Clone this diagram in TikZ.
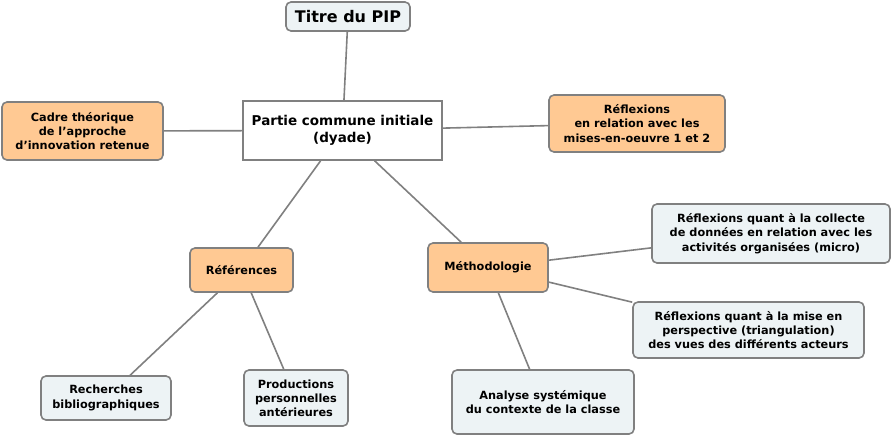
\documentclass[tikz,border=0pt]{standalone}
\usepackage{fontspec}
\setmainfont{DejaVu Sans}
\definecolor{peach}{HTML}{FFC993}
\definecolor{pale}{HTML}{EDF3F5}
\definecolor{edge}{HTML}{808080}

\begin{document}
\begin{tikzpicture}[x=1pt,y=-1pt,
    box/.style={draw=edge,line width=1.6pt,rounded corners=5pt,align=center,inner sep=0pt,
        font=\bfseries\fontsize{11.3}{14.2}\selectfont},
    hot/.style={box,fill=peach},
    cool/.style={box,fill=pale},
    link/.style={draw=edge,line width=1.6pt}]
    \fill[white] (0,0) rectangle (893,437);
    % centre
    \node[box,rounded corners=0pt,fill=white,minimum width=199,minimum height=59,
        font=\bfseries\fontsize{13.5}{16.5}\selectfont] (partie) at (342.5,130.5) {Partie commune initiale\\(dyade)};
    \node[cool,minimum width=124,minimum height=29,font=\bfseries\fontsize{16}{19}\selectfont] (titre) at (348,16.5) {Titre du PIP};
    \node[hot,minimum width=161,minimum height=58] (cadre) at (82.5,131) {Cadre théorique\\de l’approche\\d’innovation retenue};
    \node[hot,minimum width=176,minimum height=57] (mises) at (637,123.5) {Réflexions\\en relation avec les\\mises-en-oeuvre 1 et 2};
    % branches
    \node[hot,minimum width=103,minimum height=44] (refs) at (241.5,270) {Références};
    \node[hot,minimum width=120,minimum height=49] (metho) at (488,267.5) {Méthodologie};
    \node[cool,minimum width=130,minimum height=44] (biblio) at (106,398) {Recherches\\bibliographiques};
    \node[cool,minimum width=104,minimum height=56] (prod) at (296,398) {Productions\\personnelles\\antérieures};
    \node[cool,minimum width=238,minimum height=59] (collecte) at (771,233.5) {Réflexions quant à la collecte\\de données en relation avec les\\activités organisées (micro)};
    \node[cool,minimum width=231,minimum height=56] (vues) at (748.5,330) {Réflexions quant à la mise en\\perspective (triangulation)\\des vues des différents acteurs};
    \node[cool,minimum width=182,minimum height=64] (analyse) at (543,402) {Analyse systémique\\du contexte de la classe};
    % liens
    \draw[link] (titre) -- (partie);
    \draw[link] (cadre) -- (partie);
    \draw[link] (partie) -- (mises);
    \draw[link] (partie) -- (refs);
    \draw[link] (partie) -- (metho);
    \draw[link] (refs) -- (biblio);
    \draw[link] (refs) -- (prod);
    \draw[link] (metho) -- (collecte);
    \draw[link] (metho) -- (vues);
    \draw[link] (metho) -- (analyse);
\end{tikzpicture}
\end{document}
